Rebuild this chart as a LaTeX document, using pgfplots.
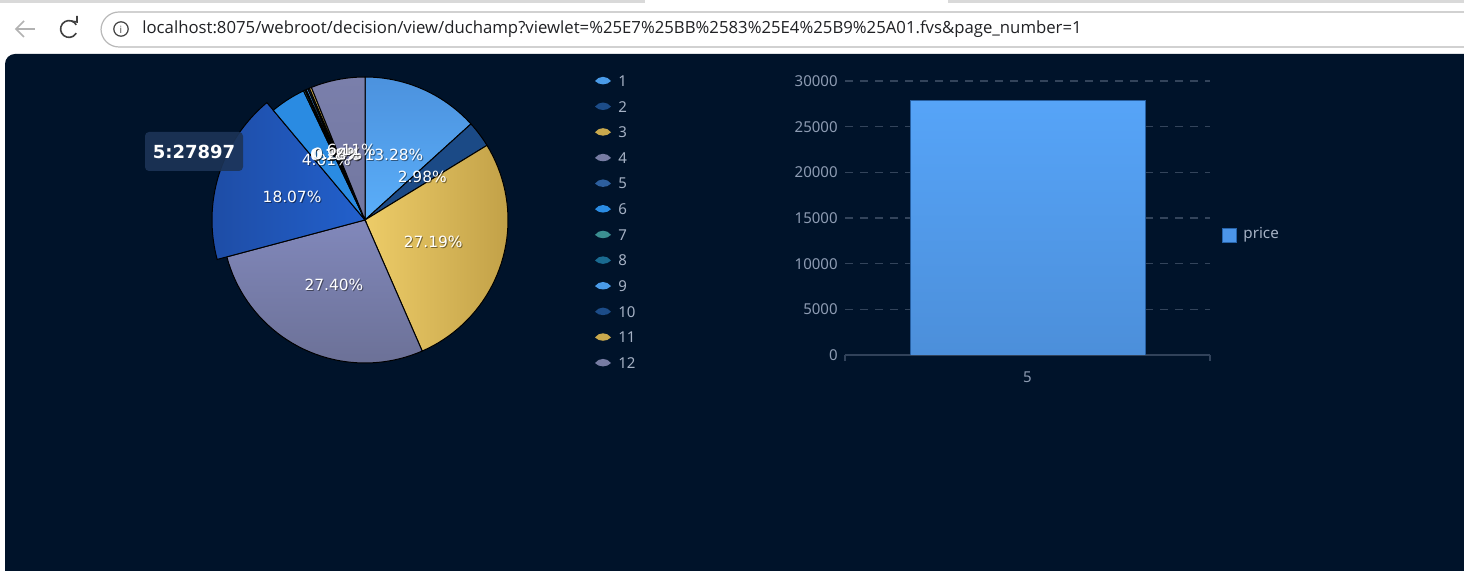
\documentclass[border=0pt]{standalone}
\usepackage{pgfplots}
\pgfplotsset{compat=1.18}
\usepackage{fontspec}
\setmainfont{Noto Sans}
\newfontfamily\dv{DejaVu Sans}
\newfontfamily\ui{Open Sans}
\definecolor{bg}{HTML}{00132A}
\definecolor{legtext}{HTML}{A5B1C4}
\definecolor{ticktext}{HTML}{8E9CB3}
\definecolor{gridc}{HTML}{33445B}
\definecolor{axisc}{HTML}{31425A}
\definecolor{tipfill}{HTML}{1C3457}
\definecolor{c1}{HTML}{4A9BE8}
\definecolor{c2}{HTML}{1C4C88}
\definecolor{c3}{HTML}{C9A94D}
\definecolor{c4}{HTML}{777CA3}
\definecolor{c5}{HTML}{2D5F9E}
\definecolor{c6}{HTML}{2B8CE3}
\definecolor{c7}{HTML}{3B8F91}
\definecolor{c8}{HTML}{1A6B91}
\definecolor{s1a}{HTML}{4C92DE}\definecolor{s1b}{HTML}{5AAEF9}
\definecolor{s2}{HTML}{1B4A86}
\definecolor{s3a}{HTML}{EDCC68}\definecolor{s3b}{HTML}{C2A148}
\definecolor{s4a}{HTML}{8188BB}\definecolor{s4b}{HTML}{6C7197}
\definecolor{s5a}{HTML}{1E4DA6}\definecolor{s5b}{HTML}{2260CC}
\definecolor{s6}{HTML}{2A8BE2}
\definecolor{s7}{HTML}{3A9191}
\definecolor{s8}{HTML}{1A6A90}
\definecolor{s9}{HTML}{4DA0EE}
\definecolor{s10}{HTML}{1A4984}
\definecolor{s11}{HTML}{CDAC4E}
\definecolor{s12a}{HTML}{7A7FAB}\definecolor{s12b}{HTML}{7277A0}
\definecolor{bartop}{HTML}{56A4F8}\definecolor{barbot}{HTML}{4C8FDA}
\definecolor{baredge}{HTML}{285FA0}
\definecolor{legsq}{HTML}{4C95E8}\definecolor{legsqe}{HTML}{2864AA}
\definecolor{urltext}{HTML}{202124}
\tikzset{
  sl1/.style={top color=s1a, bottom color=s1b},
  sl2/.style={fill=s2},
  sl3/.style={left color=s3a, right color=s3b},
  sl4/.style={top color=s4a, bottom color=s4b},
  sl5/.style={left color=s5a, right color=s5b},
  sl6/.style={fill=s6},
  sl7/.style={fill=s7},
  sl8/.style={fill=s8},
  sl9/.style={fill=s9},
  sl10/.style={fill=s10},
  sl11/.style={fill=s11},
  sl12/.style={top color=s12a, bottom color=s12b},
  pl/.style={text=white, font=\dv\fontsize{7.7}{9}\selectfont, inner sep=0pt},
  plsh/.style={text=black, opacity=0.45, font=\dv\fontsize{7.7}{9}\selectfont, inner sep=0pt},
  lg/.style={text=legtext, font=\fontsize{7.5}{9}\selectfont, anchor=west, inner sep=0pt},
}
\begin{document}
\begin{tikzpicture}
\begin{axis}[name=px, at={(0,0)}, anchor=south west, scale only axis,
  width=732pt, height=285.5pt, xmin=0, xmax=1464, ymin=0, ymax=571,
  y dir=reverse, hide axis, clip=false]
% browser chrome
\fill[white] (axis cs:0,0) rectangle (axis cs:1464,571);
\fill[gray!30] (axis cs:0,0) rectangle (axis cs:645,3);
\fill[gray!30] (axis cs:948,0) rectangle (axis cs:1464,3);
\draw[gray!55, line width=0.6pt, rounded corners=9pt, fill=white] (axis cs:1464,12) -- (axis cs:101,12) -- (axis cs:101,47) -- (axis cs:1464,47);
\draw[gray!60, line width=0.8pt] (axis cs:16,29) -- (axis cs:35,29);
\draw[gray!60, line width=0.8pt] (axis cs:24,21) -- (axis cs:16,29) -- (axis cs:24,37);
\draw[black!75, line width=0.8pt] (axis cs:69,29) ++(30:4.2pt) arc[start angle=30, end angle=330, radius=4.2pt];
\draw[black!75, line width=0.8pt] (axis cs:71,21) -- (axis cs:77,22) -- (axis cs:77,16);
\draw[black!75, line width=0.6pt] (axis cs:121,29) circle[radius=3.6pt];
\node[text=black!75, font=\ui\fontsize{5}{6}\selectfont, inner sep=0pt] at (axis cs:121,29.5) {i};
\node[anchor=west, text=urltext, font=\ui\fontsize{8.37}{10}\selectfont, inner sep=0pt] at (axis cs:142,29) {localhost:8075/webroot/decision/view/duchamp?viewlet=\%25E7\%25BB\%2583\%25E4\%25B9\%25A01.fvs\&page\_number=1};
% dark panel
\fill[bg] (axis cs:1464,54) [rounded corners=5pt] -- (axis cs:5,54) [sharp corners] -- (axis cs:5,571) -- (axis cs:1464,571) -- cycle;
% pie slices
\gdef\cum{0}
\foreach \p/\st/\r in {13.28/sl1/143, 2.98/sl2/143, 27.19/sl3/143, 27.40/sl4/143, 18.07/sl5/153, 4.01/sl6/143, 0.18/sl7/143, 0.15/sl8/143, 0.21/sl9/143, 0.18/sl10/143, 0.24/sl11/143, 6.11/sl12/143}{
  \pgfmathsetmacro\a{\cum*3.6}
  \pgfmathsetmacro\b{(\cum+\p)*3.6}
  \edef\doit{\noexpand\addplot[\st, draw=black, line width=0.5pt, domain=\a:\b, samples=41, variable=\noexpand\t] ({365+\r*sin(\noexpand\t)},{220-\r*cos(\noexpand\t)}) -- (axis cs:365,220) -- cycle;}
  \doit
  \pgfmathsetmacro\nc{\cum+\p}
  \xdef\cum{\nc}
}
% pie labels
\gdef\cum{0}
\foreach \p/\r in {13.28/143, 2.98/143, 27.19/143, 27.40/143, 18.07/153, 4.01/143, 0.18/143, 0.15/143, 0.21/143, 0.18/143, 0.24/143, 6.11/143}{
  \pgfmathsetmacro\m{(\cum+\p/2)*3.6}
  \pgfmathsetmacro\lx{365+0.5*\r*sin(\m)}
  \pgfmathsetmacro\ly{220-0.5*\r*cos(\m)}
  \pgfmathsetmacro\sx{\lx+1}
  \pgfmathsetmacro\sy{\ly+1}
  \edef\doit{\noexpand\node[plsh] at (axis cs:\sx,\sy) {\p\noexpand\%}; \noexpand\node[pl] at (axis cs:\lx,\ly) {\p\noexpand\%};}
  \doit
  \pgfmathsetmacro\nc{\cum+\p}
  \xdef\cum{\nc}
}
% tooltip
\fill[tipfill, opacity=0.9, rounded corners=2pt] (axis cs:145,132) rectangle (axis cs:243,171);
\node[text=white, font=\dv\bfseries\fontsize{9}{11}\selectfont, inner sep=0pt] at (axis cs:194,152) {5:27897};
% pie legend
\foreach \i/\c in {1/c1,2/c2,3/c3,4/c4,5/c5,6/c6,7/c7,8/c8,9/c1,10/c2,11/c3,12/c4}{
  \pgfmathsetmacro\yy{81+(\i-1)*25.64}
  \pgfmathsetmacro\yu{\yy-5.5}
  \pgfmathsetmacro\yd{\yy+4.5}
  \edef\doit{\noexpand\fill[\c] (axis cs:595,\yy) .. controls (axis cs:599,\yu) and (axis cs:607,\yu) .. (axis cs:611,\yy) .. controls (axis cs:607,\yd) and (axis cs:599,\yd) .. cycle; \noexpand\node[lg] at (axis cs:618,\yy) {\i};}
  \doit
}
% bar chart end ticks and legend
\draw[axisc, line width=0.8pt] (axis cs:845,355) -- (axis cs:845,361);
\draw[axisc, line width=0.8pt] (axis cs:1210,355) -- (axis cs:1210,361);
\fill[fill=legsq, draw=legsqe, line width=0.4pt] (axis cs:1222,228) rectangle (axis cs:1236,242);
\node[lg, font=\fontsize{7.6}{9}\selectfont] at (axis cs:1243,235) {price};
\end{axis}
\begin{axis}[at={(422.5pt,108pt)}, anchor=south west, scale only axis,
  width=182.5pt, height=137pt, xmin=-1, xmax=1, ymin=0, ymax=30000,
  axis x line*=bottom, axis y line*=left,
  y axis line style={draw=none},
  x axis line style={draw=axisc, line width=0.8pt, -},
  xtick={0}, xticklabels={5}, ytick={0,5000,...,30000},
  scaled y ticks=false,
  /pgf/number format/fixed, /pgf/number format/1000 sep={},
  /pgf/number format/assume math mode=true,
  major tick length=0pt,
  tick style={draw=none},
  ticklabel style={text=ticktext, font=\fontsize{7.5}{9}\selectfont},
  yticklabel style={inner sep=0pt, xshift=-3.5pt},
  xticklabel style={inner sep=0pt, yshift=-8pt},
  ymajorgrids, grid style={gridc, line width=0.6pt, dash pattern=on 4pt off 3.5pt},
  ]
\addplot[ybar, bar width=117.5pt, draw=baredge, line width=0.4pt,
  top color=bartop, bottom color=barbot] coordinates {(0,27897)};
\end{axis}
\pgfresetboundingbox
\useasboundingbox (0,0) rectangle (732pt,285.5pt);
\end{tikzpicture}
\end{document}
